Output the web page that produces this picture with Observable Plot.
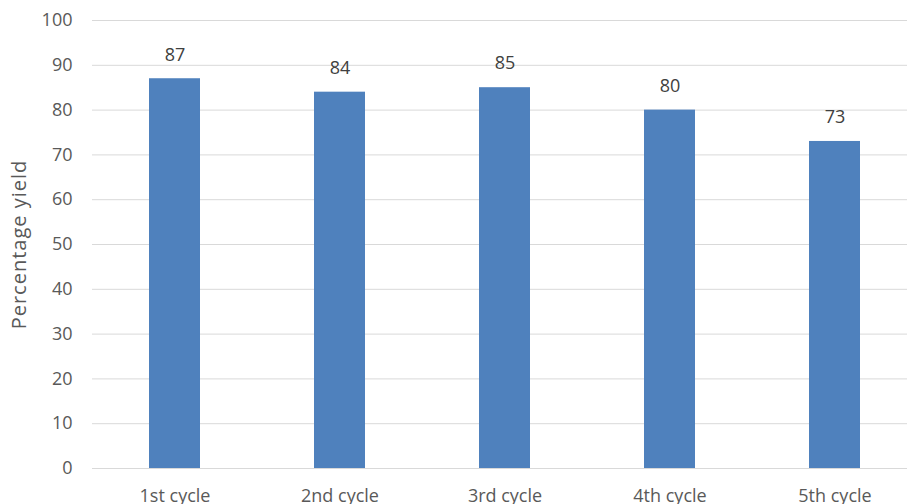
<!DOCTYPE html>
<html><head><meta charset="utf-8">
<script src="https://cdn.jsdelivr.net/npm/d3@7"></script>
<script src="https://cdn.jsdelivr.net/npm/@observablehq/plot@0.6"></script>
<style>
html,body{margin:0;padding:0;background:#fff;overflow:hidden;}
.ylab text{letter-spacing:1px;}
</style>
</head><body>
<div id="chart"></div>
<script>
const categories = ["1st cycle", "2nd cycle", "3rd cycle", "4th cycle", "5th cycle"];
const yields = [87, 84, 85, 80, 73];
const yTicks = [0, 10, 20, 30, 40, 50, 60, 70, 80, 90, 100];
const yTitle = "Percentage yield";

const data = categories.map((c, i) => ({cycle: c, value: yields[i]}));

const chart = Plot.plot({
  width: 907,
  height: 504,
  marginLeft: 92,
  marginRight: -10,
  marginTop: 20,
  marginBottom: 36,
  style: {fontFamily: "'Open Sans', sans-serif", fontSize: "18px", color: "#595959", background: "#fff"},
  x: {domain: categories, paddingInner: 0.69, paddingOuter: 0.345, label: null},
  y: {domain: [0, 100], ticks: yTicks, label: null},
  marks: [
    Plot.ruleY(yTicks, {stroke: "#d9d9d9", strokeWidth: 1}),
    Plot.barY(data, {x: "cycle", y: "value", fill: "#4f81bd"}),
    Plot.text(data, {x: "cycle", y: "value", text: d => String(d.value), dy: -24, fill: "#404040", fontSize: 18}),
    Plot.axisY({ticks: yTicks, tickSize: 0, tickPadding: 20, fontSize: 18, fill: "#595959", label: null}),
    Plot.axisX({tickSize: 0, tickPadding: 21, fontSize: 18, fill: "#595959", label: null}),
    Plot.text([yTitle], {frameAnchor: "left", textAnchor: "middle", dx: -73, rotate: -90, fontSize: 20, fill: "#595959", className: "ylab"})
  ]
});
document.getElementById("chart").appendChild(chart);
</script>
</body></html>
